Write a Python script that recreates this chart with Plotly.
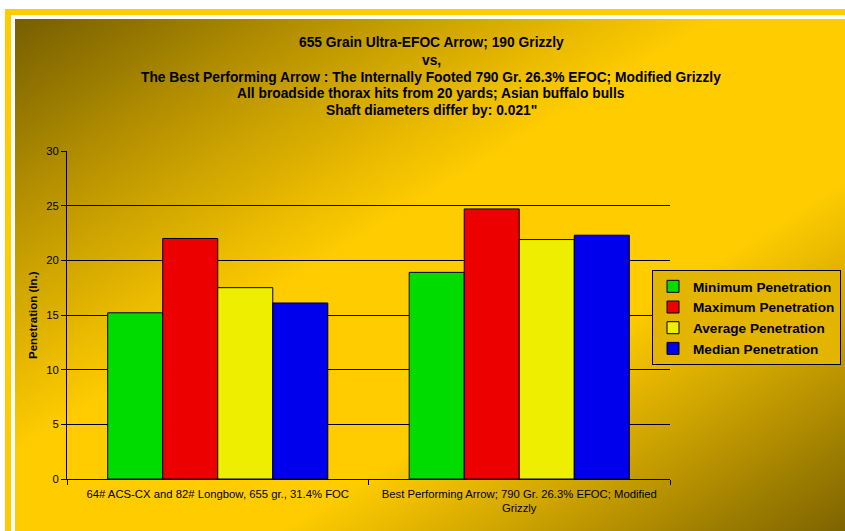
import base64
import struct
import zlib

import numpy as np
import plotly.graph_objects as go

# ---------------- data ----------------
categories = [
    "64# ACS-CX and 82# Longbow, 655 gr., 31.4% FOC",
    "Best Performing Arrow; 790 Gr. 26.3% EFOC; Modified<br>Grizzly",
]
series_names = [
    "Minimum Penetration",
    "Maximum Penetration",
    "Average Penetration",
    "Median Penetration",
]
minimum_pen = [15.2, 18.9]
maximum_pen = [22.0, 24.7]
average_pen = [17.5, 21.9]
median_pen = [16.1, 22.3]
series_values = [minimum_pen, maximum_pen, average_pen, median_pen]
series_colors = ["#00DC00", "#EC0000", "#EEEE00", "#0000EC"]

title_lines = [
    "655 Grain Ultra-EFOC Arrow; 190 Grizzly",
    "vs,",
    "The Best Performing Arrow : The Internally Footed 790 Gr. 26.3% EFOC; Modified Grizzly",
    "All broadside thorax hits from 20 yards; Asian buffalo bulls",
    "Shaft diameters differ by: 0.021\"",
]
y_title = "Penetration (In.)"

# ---------------- geometry (page pixels) ----------------
W, H = 845, 531
PLOT_X0, PLOT_X1 = 67, 670
PLOT_Y0, PLOT_Y1 = 151, 479
L, R = PLOT_X0, W - PLOT_X1
T, B = PLOT_Y0, H - PLOT_Y1
PW, PH = W - L - R, H - T - B

FONT = "Arial, 'Liberation Sans', sans-serif"


def px_x(page_x):
    return (page_x - L) / PW


def px_y(page_y):
    return (H - B - page_y) / PH


def png_data_uri(arr):
    h, w, _ = arr.shape
    raw = b"".join(b"\x00" + arr[y].tobytes() for y in range(h))

    def chunk(tag, data):
        c = struct.pack(">I", len(data)) + tag + data
        return c + struct.pack(">I", zlib.crc32(tag + data) & 0xFFFFFFFF)

    png = (b"\x89PNG\r\n\x1a\n"
           + chunk(b"IHDR", struct.pack(">IIBBBBB", w, h, 8, 2, 0, 0, 0))
           + chunk(b"IDAT", zlib.compress(raw, 9))
           + chunk(b"IEND", b""))
    return "data:image/png;base64," + base64.b64encode(png).decode()


# background: white page, yellow frame, white line, diagonal gold gradient
stops_t = [0.0, 0.2, 0.42, 0.66, 0.82, 1.0]
stops_c = np.array([
    [118, 95, 0],
    [188, 150, 0],
    [255, 204, 0],
    [255, 204, 0],
    [196, 156, 0],
    [125, 100, 0],
], dtype=float)


def grad(xx, yy):
    u = (xx - 15) / (W - 15)
    v = (yy - 19) / (H - 19)
    t = np.clip((u + v) / 2, 0, 1)
    out = np.zeros(np.shape(t) + (3,), dtype=float)
    for ch in range(3):
        out[..., ch] = np.interp(t, stops_t, stops_c[:, ch])
    return out


yy, xx = np.mgrid[0:H, 0:W].astype(float)
img = grad(xx, yy)
img = np.where(((xx >= 15) & (yy >= 19))[..., None], img, 255.0)
frame_y = (xx >= 5) & (yy >= 9) & ~((xx >= 11) & (yy >= 15))
img[frame_y] = [255, 204, 0]
white_line = (xx >= 11) & (yy >= 15) & ~((xx >= 15) & (yy >= 19))
img[white_line] = [255, 255, 255]
bg_uri = png_data_uri(np.ascontiguousarray(img.astype(np.uint8)))

lg = grad(np.array(755.0), np.array(315.0))
legend_bg = "rgb(%d,%d,%d)" % tuple(int(c) for c in lg)

# ---------------- figure ----------------
fig = go.Figure()
for name, vals, col in zip(series_names, series_values, series_colors):
    fig.add_trace(go.Bar(
        x=categories, y=vals, name=name,
        marker=dict(color=col, line=dict(color="black", width=1)),
        hoverinfo="x+y+name",
    ))

annotations = []
title_y_px = [42, 60, 77, 94, 111]
for txt, ypx in zip(title_lines, title_y_px):
    annotations.append(dict(
        text="<b>" + txt + "</b>", xref="paper", yref="paper",
        x=px_x(431), y=px_y(ypx),
        xanchor="center", yanchor="middle", showarrow=False,
        font=dict(family=FONT, size=13.8, color="black"),
    ))
annotations.append(dict(
    text="<b>" + y_title + "</b>", xref="paper", yref="paper",
    x=px_x(33), y=0.5, textangle=-90,
    xanchor="center", yanchor="middle", showarrow=False,
    font=dict(family=FONT, size=11.5, color="black"),
))

fig.update_layout(
    width=W, height=H, autosize=False,
    margin=dict(l=L, r=R, t=T, b=B, pad=0, autoexpand=False),
    paper_bgcolor="white",
    plot_bgcolor="rgba(0,0,0,0)",
    barmode="group", bargap=0.27, bargroupgap=0,
    font=dict(family=FONT, size=11.3, color="black"),
    showlegend=True,
    legend=dict(
        x=px_x(652), y=px_y(270),
        xanchor="left", yanchor="top",
        bgcolor=legend_bg, bordercolor="black", borderwidth=1,
        font=dict(family=FONT, size=13.6, color="black", weight="bold"),
        traceorder="normal",
    ),
    annotations=annotations,
    images=[dict(
        source=bg_uri, xref="paper", yref="paper",
        x=-L / PW, y=1 + T / PH, sizex=W / PW, sizey=H / PH,
        xanchor="left", yanchor="top", sizing="stretch", layer="below",
    )],
    xaxis=dict(
        showline=True, linecolor="black", linewidth=1,
        ticks="outside", tickson="boundaries", ticklen=5, tickcolor="black",
        ticklabelstandoff=4,
        showgrid=False, tickfont=dict(family=FONT, size=11.3, color="black"),
    ),
    yaxis=dict(
        range=[0, 30], dtick=5, showline=True, linecolor="black", linewidth=1,
        ticks="outside", ticklen=5, tickcolor="black",
        showgrid=True, gridcolor="black", gridwidth=1, zeroline=False,
        tickfont=dict(family=FONT, size=11.3, color="black"),
    ),
)

fig.write_html(
    "out.html",
    config={"displayModeBar": False},
    post_script="document.body.style.margin='0';document.body.style.overflow='hidden';",
)
